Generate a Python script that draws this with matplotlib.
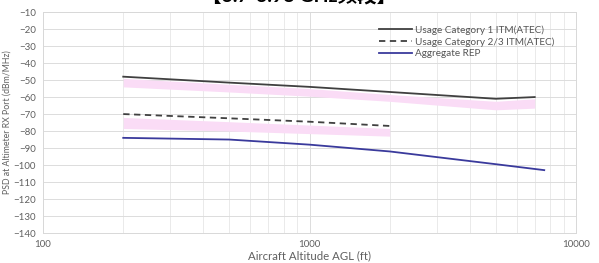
import matplotlib
matplotlib.use("Agg")
import matplotlib.pyplot as plt
from matplotlib.ticker import FixedLocator, NullFormatter

# Usage Category 1 ITM(ATEC)
cat1_alt = [200, 500, 1000, 2000, 5000, 7000]
cat1_psd = [-48, -51.5, -54, -57, -61, -60]
cat1_band_alt = [200, 500, 1000, 2000, 5000, 7000]
cat1_band_hi = [-49, -52.5, -55, -58.5, -62.5, -61]
cat1_band_lo = [-54, -57, -59.5, -62.5, -67.5, -66.5]

# Usage Category 2/3 ITM(ATEC)
cat2_alt = [200, 500, 1000, 2000]
cat2_psd = [-70, -72.5, -74.5, -77]
cat2_band_hi = [-72, -74.5, -76.5, -78.5]
cat2_band_lo = [-78.5, -80, -81.5, -83]

# Aggregate REP
rep_alt = [200, 500, 1000, 2000, 5000, 7600]
rep_psd = [-84, -85, -88, -92, -99.5, -103]

y_ticks = list(range(-140, 0, 10))
x_ticks = [100, 1000, 10000]

plt.rcParams['font.family'] = ['Lato', 'Noto Sans CJK SC', 'DejaVu Sans']

fig = plt.figure(figsize=(5.99, 2.63), dpi=100)
ax = fig.add_axes([0.0718, 0.114, 0.8898, 0.840])

band_col = '#fadcf6'
ax.fill_between(cat1_band_alt, cat1_band_hi, cat1_band_lo, color=band_col, lw=0)
ax.fill_between(cat2_alt, cat2_band_hi, cat2_band_lo, color=band_col, lw=0)

ax.plot(cat1_alt, cat1_psd, '-', color='#404040', lw=1.3,
        label='Usage Category 1 ITM(ATEC)')
ax.plot(cat2_alt, cat2_psd, '--', color='#404040', lw=1.3, dashes=(3.5, 2.5),
        label='Usage Category 2/3 ITM(ATEC)')
ax.plot(rep_alt, rep_psd, '-', color='#3a3a9c', lw=1.3,
        label='Aggregate REP')

ax.set_xscale('log')
ax.set_xlim(100, 10000)
ax.set_ylim(-140, -10)
ax.set_yticks(y_ticks)
ax.set_xticks(x_ticks)
ax.set_xticklabels([str(v) for v in x_ticks])
ax.xaxis.set_minor_locator(FixedLocator([m * d for d in (100, 1000) for m in range(2, 10)]))
ax.xaxis.set_minor_formatter(NullFormatter())

ax.grid(True, which='major', color='#dcdcdc', lw=0.7)
ax.grid(True, which='minor', axis='x', color='#e6e6e6', lw=0.6)
ax.set_axisbelow(True)
for s in ax.spines.values():
    s.set_color('#d8d8d8')
    s.set_linewidth(0.7)
ax.tick_params(which='both', length=0, labelsize=7, colors='#606060', pad=5)

ax.set_xlabel('Aircraft Altitude AGL (ft)', fontsize=8.2, color='#606060', labelpad=1)
ax.set_ylabel('PSD at Altimeter RX Port (dBm/MHz)', fontsize=6.3, color='#606060', labelpad=1)

leg = ax.legend(loc='upper left', bbox_to_anchor=(0.63, 0.94), frameon=False,
                fontsize=7.2, handlelength=3.3, labelspacing=0.25, handletextpad=0.3,
                borderpad=0, borderaxespad=0)
for t in leg.get_texts():
    t.set_color('#555555')

# cropped title at the top of the screenshot
fig.text(0.5, 1.02, '【3.7-3.98 GHz频段】', ha='center', va='center',
         fontsize=14, fontweight='bold', color='black')

fig.savefig('out.png', dpi=100)
